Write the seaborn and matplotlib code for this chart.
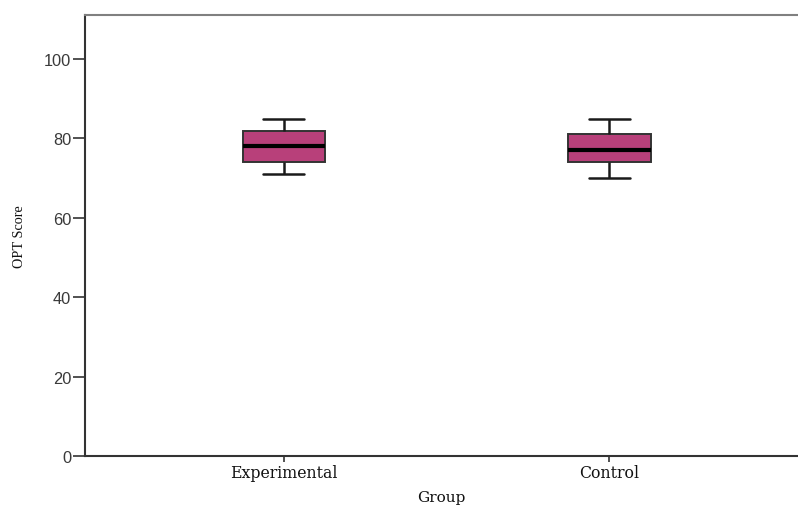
import matplotlib
matplotlib.use("Agg")
import matplotlib.pyplot as plt
import seaborn as sns
import pandas as pd

# Five-number summaries of OPT scores per group (min, Q1, median, Q3, max)
groups = ["Experimental", "Control"]
experimental_scores = [71, 74, 78, 82, 85]
control_scores = [70, 74, 77, 81, 85]
y_ticks = [0, 20, 40, 60, 80, 100]

df = pd.DataFrame({
    "Group": [groups[0]] * len(experimental_scores) + [groups[1]] * len(control_scores),
    "OPT Score": experimental_scores + control_scores,
})

sns.set_style("white")
fig = plt.figure(figsize=(7.98, 5.10), dpi=100)
ax = fig.add_axes([85 / 798, 53 / 510, 1 - 85 / 798, (457 - 16) / 510])

box_color = "#B8407A"
edge = "#1a1a1a"
sns.boxplot(
    data=df, x="Group", y="OPT Score", order=groups, ax=ax,
    width=0.252, color=box_color, saturation=1,
    linecolor=edge, linewidth=1.6,
    medianprops=dict(color="black", linewidth=3),
    whiskerprops=dict(color=edge, linewidth=1.8),
    capprops=dict(color=edge, linewidth=1.8),
    boxprops=dict(edgecolor="#333333", linewidth=1.4),
)

ax.set_ylim(0, 111.1)
ax.set_xlim(-0.611, 1.579)
ax.set_yticks(y_ticks)
ax.set_yticklabels([str(t) for t in y_ticks], fontsize=11.8, color="#3a3a3a",
                   family="Liberation Sans")
ax.set_xticks(range(len(groups)))
ax.set_xticklabels(groups, fontsize=11.3, family="DejaVu Serif", color="#111111")
ax.tick_params(axis="y", left=True, length=9, width=1.2, color="#333333", pad=1)
ax.tick_params(axis="x", bottom=True, length=4, width=1.2, color="#333333", pad=2)

ax.set_ylabel("OPT Score", family="Liberation Serif", fontsize=10.3, color="#111111",
              labelpad=13)
ax.set_xlabel("Group", family="DejaVu Serif", fontsize=11, color="#111111", labelpad=6)

for side in ["left", "bottom"]:
    ax.spines[side].set_color("#333333")
    ax.spines[side].set_linewidth(1.5)
ax.spines["top"].set_color("#808080")
ax.spines["top"].set_linewidth(1.5)
ax.spines["right"].set_visible(False)

fig.savefig("out.png", dpi=100)
